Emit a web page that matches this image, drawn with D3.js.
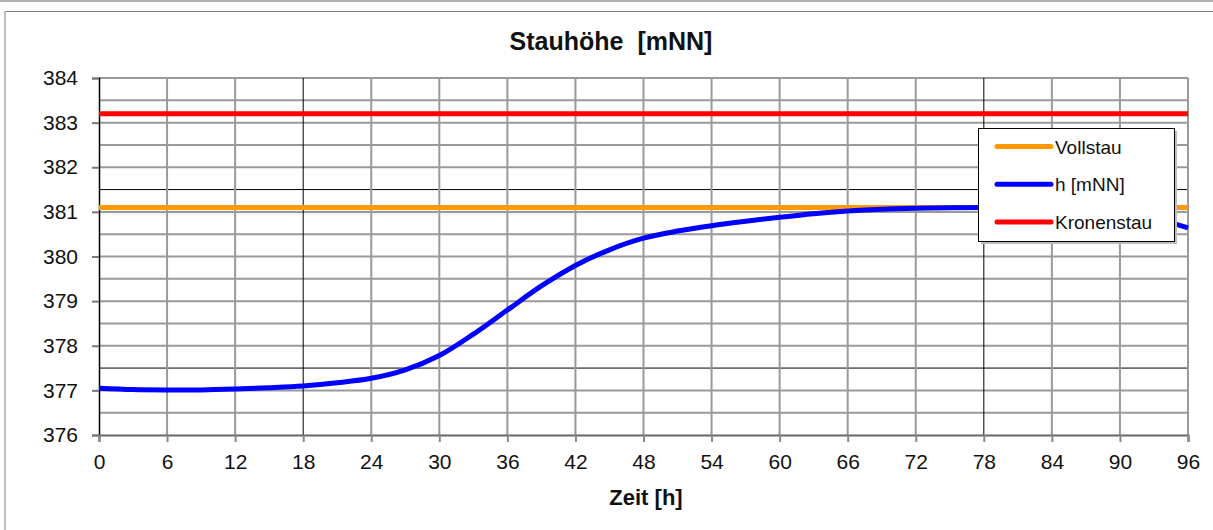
<!DOCTYPE html>
<html>
<head>
<meta charset="utf-8">
<script src="https://cdn.jsdelivr.net/npm/d3@7"></script>
<style>
  body { margin: 0; background: #fff; }
  svg { display: block; font-family: "Liberation Sans", Arial, sans-serif; }
</style>
</head>
<body>
<div id="chart"></div>
<script>
const hours = [0, 3, 6, 9, 12, 15, 18, 21, 24, 27, 30, 33, 36, 39, 42, 45, 48, 51, 54, 57, 60, 63, 66, 69, 72, 75, 78, 81, 84, 87, 90, 93, 96];
const hValues = [377.05, 377.02, 377.01, 377.01, 377.03, 377.06, 377.10, 377.17, 377.27, 377.46, 377.78, 378.26, 378.80, 379.34, 379.80, 380.15, 380.41, 380.57, 380.69, 380.79, 380.88, 380.96, 381.02, 381.06, 381.08, 381.09, 381.10, 381.11, 381.11, 381.08, 381.00, 380.86, 380.64];
const vollstau = 381.1;
const kronenstau = 383.2;
const xTicks = [0, 6, 12, 18, 24, 30, 36, 42, 48, 54, 60, 66, 72, 78, 84, 90, 96];
const yTicks = [376, 377, 378, 379, 380, 381, 382, 383, 384];
const yMinor = [376.5, 377.5, 378.5, 379.5, 380.5, 381.5, 382.5, 383.5];
const legendItems = [
  { label: "Vollstau", color: "#ff9900" },
  { label: "h [mNN]", color: "#0000ff" },
  { label: "Kronenstau", color: "#ff0000" }
];

const W = 1213, H = 530;
const m = { left: 99, right: 1188, top: 78, bottom: 435 };

const svg = d3.select("#chart").append("svg").attr("width", W).attr("height", H);

// outer frame
svg.append("line").attr("x1", 0).attr("x2", W).attr("y1", 1).attr("y2", 1).attr("stroke", "#b0b0b0").attr("stroke-width", 2);
svg.append("line").attr("x1", 5).attr("x2", W).attr("y1", 11.5).attr("y2", 11.5).attr("stroke", "#808080").attr("stroke-width", 1);
svg.append("line").attr("x1", 5).attr("x2", 5).attr("y1", 11).attr("y2", H).attr("stroke", "#c0c0c0").attr("stroke-width", 2);

const x = d3.scaleLinear().domain([0, 96]).range([m.left, m.right]);
const y = d3.scaleLinear().domain([376, 384]).range([m.bottom, m.top]);

const grid = svg.append("g");
// horizontal grid
grid.selectAll(".hg").data(yTicks.concat(yMinor).filter(v => v !== 376)).enter().append("line")
  .attr("x1", m.left).attr("x2", m.right)
  .attr("y1", d => y(d)).attr("y2", d => y(d))
  .attr("stroke", d => (d === 381.5 || d === 377.5) ? "#000" : "#9a9a9a")
  .attr("stroke-width", d => (d === 381.5 || d === 377.5) ? 1 : 2);
// vertical grid
grid.selectAll(".vg").data(xTicks.filter(v => v !== 0)).enter().append("line")
  .attr("x1", d => x(d)).attr("x2", d => x(d))
  .attr("y1", m.top).attr("y2", m.bottom)
  .attr("stroke", d => (d === 18 || d === 78) ? "#000" : "#9a9a9a")
  .attr("stroke-width", d => (d === 18 || d === 78) ? 1 : 2);

// axes
const yAxis = svg.append("g").attr("transform", `translate(${m.left},0)`)
  .call(d3.axisLeft(y).tickValues(yTicks).tickSize(7).tickPadding(14).tickFormat(d3.format("d")));
yAxis.select(".domain").attr("stroke", "#000").attr("stroke-width", 1.5);
yAxis.selectAll(".tick line").attr("stroke", "#777").attr("stroke-width", 2);
yAxis.selectAll("text").attr("font-size", 21).attr("fill", "#111");

const xAxis = svg.append("g").attr("transform", `translate(0,${m.bottom})`)
  .call(d3.axisBottom(x).tickValues(xTicks).tickSize(7).tickPadding(12));
xAxis.select(".domain").attr("stroke", "#666").attr("stroke-width", 2);
xAxis.selectAll(".tick line").attr("stroke", "#888").attr("stroke-width", 2);
xAxis.selectAll("text").attr("font-size", 21).attr("fill", "#111");

// series
const series = svg.append("g");
series.append("line").attr("x1", x(0)).attr("x2", x(96)).attr("y1", y(vollstau)).attr("y2", y(vollstau))
  .attr("stroke", "#ff9900").attr("stroke-width", 5);
const line = d3.line().x((d, i) => x(hours[i])).y(d => y(d)).curve(d3.curveCatmullRom.alpha(0.5));
series.append("path").datum(hValues).attr("d", line).attr("fill", "none")
  .attr("stroke", "#0000ff").attr("stroke-width", 5);
series.append("line").attr("x1", x(0)).attr("x2", x(96)).attr("y1", y(kronenstau)).attr("y2", y(kronenstau))
  .attr("stroke", "#ff0000").attr("stroke-width", 5);

// titles
svg.append("text").attr("x", 611).attr("y", 50).attr("text-anchor", "middle")
  .attr("font-size", 25).attr("font-weight", "bold").attr("fill", "#111")
  .style("white-space", "pre").text("Stauhöhe  [mNN]");
svg.append("text").attr("x", 646).attr("y", 505).attr("text-anchor", "middle")
  .attr("font-size", 22).attr("font-weight", "bold").attr("fill", "#111").text("Zeit [h]");

// legend
const lg = svg.append("g").attr("transform", "translate(978,128)");
lg.append("rect").attr("x", 3).attr("y", 3).attr("width", 196).attr("height", 113).attr("fill", "#bdbdbd");
lg.append("rect").attr("x", 0.5).attr("y", 0.5).attr("width", 196).attr("height", 113)
  .attr("fill", "#fff").attr("stroke", "#000").attr("stroke-width", 1);
const rows = lg.selectAll(".row").data(legendItems).enter().append("g")
  .attr("transform", (d, i) => `translate(0,${18.5 + i * 37.7})`);
rows.append("line").attr("x1", 19).attr("x2", 73).attr("stroke", d => d.color).attr("stroke-width", 5).attr("stroke-linecap", "round");
rows.append("text").attr("x", 77).attr("y", 7).attr("font-size", 19).attr("fill", "#111").text(d => d.label);
</script>
</body>
</html>
